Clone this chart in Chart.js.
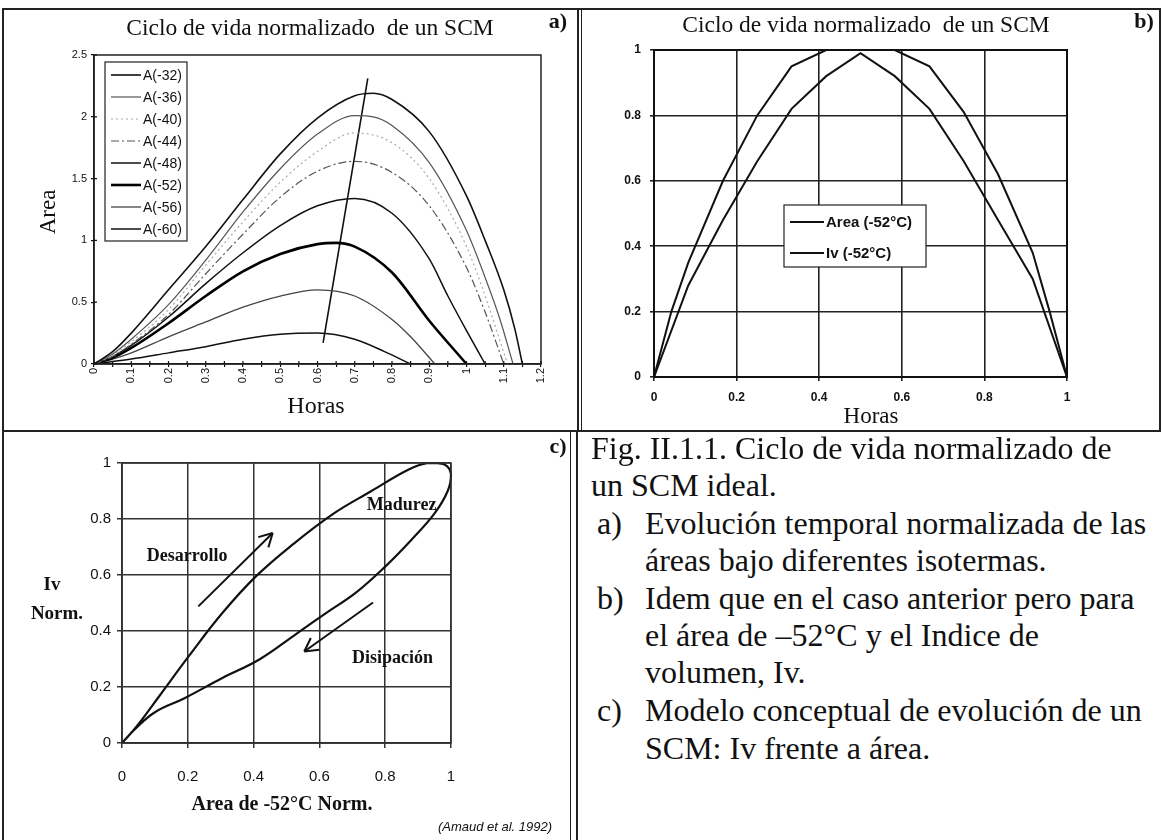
<!DOCTYPE html>
<html>
<head>
<meta charset="utf-8">
<script src="https://cdn.jsdelivr.net/npm/chart.js@4.4.1/dist/chart.umd.min.js"></script>
<style>
  body { margin: 0; background: #fff; }
  #page { position: relative; width: 1163px; height: 840px; overflow: hidden; font-family: 'Liberation Serif', serif; color: #111; }
  canvas { position: absolute; }
  .t { position: absolute; white-space: nowrap; transform: translate(-50%, -50%); line-height: 1; }
  .cap { position: absolute; white-space: nowrap; transform: translateY(-50%); font-size: 32px; line-height: 1; }
  .rule { position: absolute; background: #222; }
</style>
</head>
<body>
<div id="page">
  <canvas id="chartA" width="578" height="430" style="left:0;top:0;width:578px;height:430px"></canvas>
  <canvas id="chartB" width="583" height="430" style="left:580px;top:0;width:583px;height:430px"></canvas>
  <canvas id="chartC" width="571" height="408" style="left:0;top:432px;width:571px;height:408px"></canvas>

  <!-- frame lines of the figure -->
  <div class="rule" style="left:2px;top:8px;width:1159px;height:2px"></div>
  <div class="rule" style="left:2px;top:8px;width:2px;height:832px"></div>
  <div class="rule" style="left:577px;top:8px;width:2px;height:424px"></div>
  <div class="rule" style="left:581px;top:8px;width:1px;height:424px"></div>
  <div class="rule" style="left:1159px;top:8px;width:2px;height:424px"></div>
  <div class="rule" style="left:2px;top:430px;width:1159px;height:2px"></div>
  <div class="rule" style="left:570px;top:430px;width:1px;height:410px"></div>
  <div class="rule" style="left:576px;top:430px;width:2px;height:410px"></div>

  <div class="t" style="left:310px;top:28px;font-size:23.5px">Ciclo de vida normalizado&nbsp; de un SCM</div>
  <div class="t" style="left:558px;top:21px;font-size:22px;font-weight:bold">a)</div>
  <div class="t" style="left:316px;top:405px;font-size:24px">Horas</div>
  <div class="t" style="left:47px;top:212px;font-size:23px;transform:translate(-50%,-50%) rotate(-90deg)">Area</div>

  <div class="t" style="left:866px;top:25px;font-size:23.5px">Ciclo de vida normalizado&nbsp; de un SCM</div>
  <div class="t" style="left:1144px;top:21px;font-size:22px;font-weight:bold">b)</div>
  <div class="t" style="left:871px;top:415px;font-size:23px">Horas</div>

  <div class="t" style="left:558px;top:446px;font-size:22px;font-weight:bold">c)</div>
  <div class="t" style="left:52px;top:583px;font-size:19px;font-weight:bold">Iv</div>
  <div class="t" style="left:57px;top:612px;font-size:19px;font-weight:bold">Norm.</div>
  <div class="t" style="left:282px;top:803px;font-size:20px;font-weight:bold">Area de -52°C Norm.</div>
  <div class="t" style="left:495px;top:826px;font-size:13px;font-style:italic;font-family:'Liberation Sans',sans-serif">(Amaud et al. 1992)</div>

  <div class="cap" style="left:591px;top:448px">Fig. II.1.1. Ciclo de vida normalizado de</div>
  <div class="cap" style="left:591px;top:485px">un SCM ideal.</div>
  <div class="cap" style="left:597px;top:523px">a)</div>
  <div class="cap" style="left:645px;top:523px">Evolución temporal normalizada de las</div>
  <div class="cap" style="left:645px;top:560px">áreas bajo diferentes isotermas.</div>
  <div class="cap" style="left:597px;top:598px">b)</div>
  <div class="cap" style="left:645px;top:598px">Idem que en el caso anterior pero para</div>
  <div class="cap" style="left:645px;top:635px">el área de –52°C y el Indice de</div>
  <div class="cap" style="left:645px;top:672px">volumen, Iv.</div>
  <div class="cap" style="left:597px;top:710px">c)</div>
  <div class="cap" style="left:645px;top:710px">Modelo conceptual de evolución de un</div>
  <div class="cap" style="left:645px;top:748px">SCM: Iv frente a área.</div>
</div>

<script>
// a) normalised area under each isotherm vs hours  [hours, area]
const a32 = [[0,0],[0.05,0.1],[0.1,0.25],[0.2,0.6],[0.3,0.95],[0.4,1.33],[0.5,1.7],[0.6,1.99],[0.7,2.17],[0.75,2.19],[0.8,2.14],[0.9,1.88],[1.0,1.36],[1.05,1.0],[1.1,0.6],[1.13,0.28],[1.15,0]];
const a36 = [[0,0],[0.05,0.08],[0.1,0.2],[0.2,0.48],[0.3,0.84],[0.4,1.23],[0.5,1.58],[0.6,1.86],[0.7,2.01],[0.75,2.0],[0.8,1.93],[0.9,1.63],[1.0,1.08],[1.05,0.7],[1.09,0.36],[1.125,0]];
const a40 = [[0,0],[0.05,0.07],[0.1,0.18],[0.2,0.44],[0.3,0.8],[0.4,1.15],[0.5,1.47],[0.6,1.72],[0.7,1.87],[0.8,1.79],[0.9,1.5],[1.0,0.95],[1.05,0.55],[1.11,0]];
const a44 = [[0,0],[0.05,0.06],[0.1,0.16],[0.2,0.4],[0.3,0.73],[0.4,1.05],[0.5,1.35],[0.6,1.56],[0.7,1.64],[0.8,1.55],[0.9,1.28],[1.0,0.78],[1.05,0.42],[1.1,0]];
const a48 = [[0,0],[0.05,0.06],[0.1,0.15],[0.2,0.38],[0.3,0.65],[0.4,0.9],[0.5,1.12],[0.6,1.28],[0.7,1.34],[0.8,1.22],[0.9,0.85],[0.95,0.55],[1.0,0.27],[1.05,0]];
const a52 = [[0,0],[0.05,0.05],[0.1,0.13],[0.2,0.33],[0.3,0.55],[0.4,0.75],[0.5,0.89],[0.6,0.97],[0.65,0.98],[0.7,0.95],[0.8,0.74],[0.9,0.35],[1.0,0]];
const a56 = [[0,0],[0.05,0.04],[0.1,0.09],[0.2,0.22],[0.3,0.34],[0.4,0.46],[0.5,0.55],[0.6,0.6],[0.7,0.55],[0.8,0.36],[0.85,0.22],[0.915,0]];
const a60 = [[0,0],[0.1,0.04],[0.2,0.09],[0.3,0.14],[0.4,0.2],[0.5,0.24],[0.6,0.25],[0.7,0.2],[0.78,0.1],[0.85,0]];
const peakLine = [[0.615,0.17],[0.735,2.31]];

// b) area and volume index at -52 C
const hoursArea = [0, 0.042, 0.083, 0.167, 0.25, 0.333, 0.417, 0.5, 0.583, 0.667, 0.75, 0.833, 0.917, 0.958, 1];
const areaNorm  = [0, 0.2, 0.35, 0.6, 0.8, 0.95, 1.0, 1.0, 1.0, 0.95, 0.81, 0.62, 0.38, 0.2, 0];
const hoursIv   = [0, 0.083, 0.167, 0.25, 0.333, 0.417, 0.5, 0.583, 0.667, 0.75, 0.833, 0.917, 1];
const ivNorm    = [0, 0.28, 0.48, 0.66, 0.82, 0.92, 0.99, 0.92, 0.82, 0.66, 0.48, 0.3, 0];

// c) Iv vs area loop
const loopArea = [0, 0.045, 0.113, 0.203, 0.305, 0.407, 0.52, 0.644, 0.757, 0.87, 0.93, 0.98, 1.0, 0.99, 0.95, 0.88, 0.80, 0.71, 0.62, 0.53, 0.42, 0.305, 0.19, 0.10, 0.04, 0];
const loopIv   = [0, 0.06, 0.167, 0.31, 0.464, 0.595, 0.71, 0.82, 0.899, 0.976, 1.0, 0.995, 0.96, 0.9, 0.82, 0.726, 0.63, 0.536, 0.464, 0.39, 0.30, 0.232, 0.16, 0.11, 0.05, 0];
const devArrow = [[0.232,0.488],[0.458,0.75]];
const disArrow = [[0.763,0.502],[0.554,0.327]];
const phaseNames = ['Desarrollo', 'Madurez', 'Disipación'];
const phaseX = [0.198, 0.85, 0.822];
const phaseY = [0.667, 0.85, 0.304];

const xy = arr => arr.map(([x, y]) => ({x, y}));
const zip = (xs, ys) => xs.map((x, i) => ({x, y: ys[i]}));
const sans = 'Liberation Sans';

const framePlugin = {
  id: 'frame',
  afterDatasetsDraw(chart, args, o) {
    const {ctx, chartArea: a} = chart;
    ctx.save();
    ctx.strokeStyle = o.color || '#111';
    ctx.lineWidth = o.width || 1.5;
    ctx.strokeRect(a.left, a.top, a.right - a.left, a.bottom - a.top);
    ctx.restore();
  }
};

const innerTicks = {
  id: 'innerTicks',
  afterDatasetsDraw(chart, args, o) {
    if (!o.len) return;
    const {ctx, scales: {x, y}, chartArea: a} = chart;
    ctx.save();
    ctx.strokeStyle = '#111';
    ctx.lineWidth = 1.2;
    ctx.beginPath();
    x.ticks.forEach(t => { const px = x.getPixelForValue(t.value); ctx.moveTo(px, a.bottom); ctx.lineTo(px, a.bottom - o.len); });
    y.ticks.forEach(t => { const py = y.getPixelForValue(t.value); ctx.moveTo(a.left, py); ctx.lineTo(a.left + o.len, py); });
    ctx.stroke();
    ctx.restore();
  }
};

const boxLegend = {
  id: 'boxLegend',
  afterDatasetsDraw(chart, args, o) {
    const ctx = chart.ctx;
    ctx.save();
    ctx.fillStyle = '#fff';
    ctx.fillRect(o.x, o.y, o.w, o.h);
    ctx.strokeStyle = '#222';
    ctx.lineWidth = 1.2;
    ctx.strokeRect(o.x, o.y, o.w, o.h);
    ctx.font = o.font;
    ctx.textBaseline = 'middle';
    let i = 0;
    chart.data.datasets.forEach(ds => {
      if (!ds.label) return;
      const cy = o.y + o.first + i * o.step;
      ctx.strokeStyle = ds.borderColor;
      ctx.lineWidth = ds.borderWidth;
      ctx.setLineDash(ds.borderDash || []);
      ctx.beginPath();
      ctx.moveTo(o.x + o.lx0, cy);
      ctx.lineTo(o.x + o.lx1, cy);
      ctx.stroke();
      ctx.setLineDash([]);
      ctx.fillStyle = '#111';
      ctx.fillText(ds.label, o.x + o.tx, cy + 1);
      i++;
    });
    ctx.restore();
  }
};

const phaseNotes = {
  id: 'phaseNotes',
  afterDatasetsDraw(chart, args, o) {
    const {ctx, scales: {x, y}} = chart;
    ctx.save();
    chart.data.datasets.forEach(ds => {
      if (!ds.arrow) return;
      const p = ds.data[ds.data.length - 1], q = ds.data[ds.data.length - 2];
      const x1 = x.getPixelForValue(p.x), y1 = y.getPixelForValue(p.y);
      const x0 = x.getPixelForValue(q.x), y0 = y.getPixelForValue(q.y);
      const ang = Math.atan2(y1 - y0, x1 - x0);
      ctx.strokeStyle = ds.borderColor;
      ctx.lineWidth = ds.borderWidth;
      ctx.beginPath();
      [0.5, -0.5].forEach(d => {
        ctx.moveTo(x1, y1);
        ctx.lineTo(x1 - 15 * Math.cos(ang + d), y1 - 15 * Math.sin(ang + d));
      });
      ctx.stroke();
    });
    ctx.font = o.font;
    ctx.fillStyle = '#111';
    ctx.textAlign = 'center';
    ctx.textBaseline = 'middle';
    phaseNames.forEach((t, i) => ctx.fillText(t, x.getPixelForValue(phaseX[i]), y.getPixelForValue(phaseY[i])));
    ctx.restore();
  }
};

const line = (label, data, color, width, dash) => ({
  label, data: xy(data), borderColor: color, borderWidth: width, borderDash: dash || [],
  showLine: true, pointRadius: 0, cubicInterpolationMode: 'monotone', fill: false
});

// ---------- a) ----------
new Chart(document.getElementById('chartA'), {
  type: 'scatter',
  data: {
    datasets: [
      line('A(-32)', a32, '#111', 1.6),
      line('A(-36)', a36, '#555', 1.2),
      line('A(-40)', a40, '#aaa', 1.2, [2, 3]),
      line('A(-44)', a44, '#555', 1.2, [8, 3, 2, 3]),
      line('A(-48)', a48, '#111', 1.5),
      line('A(-52)', a52, '#000', 2.6),
      line('A(-56)', a56, '#444', 1.3),
      line('A(-60)', a60, '#111', 1.5),
      Object.assign(line('', peakLine, '#111', 1.6), {cubicInterpolationMode: 'default'})
    ]
  },
  options: {
    responsive: false,
    animation: false,
    layout: {padding: {left: 54, top: 55, right: 37, bottom: 21}},
    plugins: {
      legend: {display: false},
      tooltip: {enabled: false},
      frame: {color: '#222', width: 1.5},
      innerTicks: {len: 3},
      boxLegend: {x: 105, y: 62, w: 82, h: 179, first: 13, step: 22, lx0: 6, lx1: 36, tx: 38, font: '14px ' + sans}
    },
    scales: {
      x: {
        type: 'linear', min: 0, max: 1.2,
        afterFit: s => { s.height = 45; },
        grid: {drawOnChartArea: false, tickLength: 3, color: '#111', lineWidth: 1.2},
        border: {color: '#111', width: 1.5},
        ticks: {
          stepSize: 0.05, autoSkip: false, minRotation: 90, maxRotation: 90, padding: 1,
          color: '#111', font: {family: sans, size: 11},
          callback: v => { const k = Math.round(v * 100); return k % 10 === 0 ? String(k / 100) : ''; }
        }
      },
      y: {
        min: 0, max: 2.5,
        afterFit: s => { s.width = 40; },
        grid: {drawOnChartArea: false, tickLength: 3, color: '#111', lineWidth: 1.2},
        border: {color: '#111', width: 1.5},
        ticks: {stepSize: 0.5, padding: 4, color: '#111', font: {family: sans, size: 11}, callback: v => String(v)}
      }
    }
  },
  plugins: [framePlugin, innerTicks, boxLegend]
});

// ---------- b) ----------
const lineB = (label, data) => ({
  label, data, borderColor: '#111', borderWidth: 2, showLine: true, pointRadius: 0, tension: 0, fill: false
});
new Chart(document.getElementById('chartB'), {
  type: 'scatter',
  data: {
    datasets: [
      lineB('Area (-52°C)', zip(hoursArea, areaNorm)),
      lineB('Iv (-52°C)', zip(hoursIv, ivNorm))
    ]
  },
  options: {
    responsive: false,
    animation: false,
    layout: {padding: {left: 34, top: 50, right: 96, bottom: 23}},
    plugins: {
      legend: {display: false},
      tooltip: {enabled: false},
      frame: {color: '#111', width: 2},
      boxLegend: {x: 204, y: 205, w: 142, h: 62, first: 17, step: 31, lx0: 6, lx1: 40, tx: 42, font: 'bold 15px ' + sans}
    },
    scales: {
      x: {
        type: 'linear', min: 0, max: 1,
        afterFit: s => { s.height = 30; },
        grid: {color: '#222', lineWidth: 1.6, tickLength: 4},
        border: {color: '#111', width: 2},
        ticks: {stepSize: 0.2, padding: 9, color: '#111', font: {family: sans, size: 12, weight: 'bold'}, callback: v => String(Math.round(v * 10) / 10)}
      },
      y: {
        min: 0, max: 1,
        afterFit: s => { s.width = 40; },
        grid: {color: '#222', lineWidth: 1.6, tickLength: 4},
        border: {color: '#111', width: 2},
        ticks: {stepSize: 0.2, padding: 9, color: '#111', font: {family: sans, size: 12, weight: 'bold'}, callback: v => String(Math.round(v * 10) / 10)}
      }
    }
  },
  plugins: [framePlugin, boxLegend]
});

// ---------- c) ----------
const arrowSet = data => ({
  data: xy(data), borderColor: '#111', borderWidth: 2, showLine: true, pointRadius: 0, tension: 0, arrow: true
});
new Chart(document.getElementById('chartC'), {
  type: 'scatter',
  data: {
    datasets: [
      {data: zip(loopArea, loopIv), borderColor: '#111', borderWidth: 2.2, showLine: true, pointRadius: 0, tension: 0.4, clip: false},
      arrowSet(devArrow),
      arrowSet(disArrow)
    ]
  },
  options: {
    responsive: false,
    animation: false,
    layout: {padding: {left: 72, top: 31, right: 120, bottom: 47}},
    plugins: {
      legend: {display: false},
      tooltip: {enabled: false},
      frame: {color: '#333', width: 1.5},
      phaseNotes: {font: 'bold 18px "Liberation Serif"'}
    },
    scales: {
      x: {
        type: 'linear', min: 0, max: 1,
        afterFit: s => { s.height = 50; },
        grid: {color: '#333', lineWidth: 1.5, tickLength: 5},
        border: {color: '#222', width: 1.5},
        ticks: {stepSize: 0.2, padding: 20, color: '#111', font: {family: sans, size: 15}, callback: v => String(Math.round(v * 10) / 10)}
      },
      y: {
        min: 0, max: 1,
        afterFit: s => { s.width = 50; },
        grid: {color: '#333', lineWidth: 1.5, tickLength: 5},
        border: {color: '#222', width: 1.5},
        ticks: {stepSize: 0.2, padding: 6, color: '#111', font: {family: sans, size: 15}, callback: v => String(Math.round(v * 10) / 10)}
      }
    }
  },
  plugins: [framePlugin, phaseNotes]
});
</script>
</body>
</html>
